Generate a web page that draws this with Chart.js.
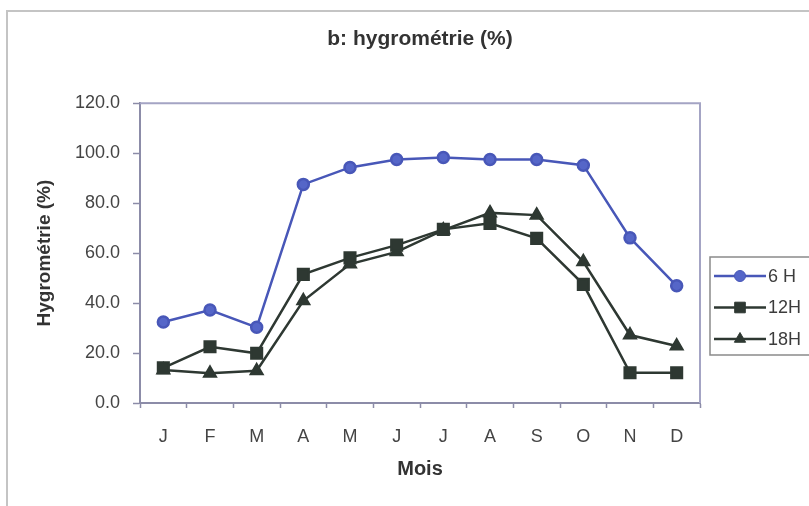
<!DOCTYPE html>
<html lang="fr">
<head>
<meta charset="utf-8">
<title>hygrométrie</title>
<script src="https://cdn.jsdelivr.net/npm/chart.js@4/dist/chart.umd.min.js"></script>
<style>
  html, body { margin: 0; padding: 0; background: #fff; }
  #wrap { width: 809px; height: 506px; }
</style>
</head>
<body>
<div id="wrap"><canvas id="hygro" width="809" height="506"></canvas></div>
<script>
const MOIS = ['J', 'F', 'M', 'A', 'M', 'J', 'J', 'A', 'S', 'O', 'N', 'D'];
const H6 = [32.4, 37.2, 30.3, 87.5, 94.3, 97.5, 98.3, 97.5, 97.5, 95.2, 66.1, 46.9];
const H12 = [14.1, 22.5, 19.9, 51.5, 58.1, 63.2, 69.5, 71.9, 65.9, 47.5, 12.1, 12.1];
const H18 = [13.2, 11.9, 12.9, 40.9, 55.6, 60.5, 69.2, 76.1, 75.2, 56.5, 27.2, 22.8];
const Y_TICKS = [0, 20, 40, 60, 80, 100, 120];

const FONT = '"Liberation Sans", Arial, sans-serif';
const BLEU = '#4857b8';
const SOMBRE = '#2e3832';
const AXE = '#8c8ca8';

// cadre gris du graphique + bordure haute/droite de la zone de tracé
const cadre = {
  id: 'cadre',
  beforeDraw(chart) {
    const ctx = chart.ctx;
    ctx.save();
    ctx.fillStyle = '#fff';
    ctx.fillRect(0, 0, chart.width, chart.height);
    ctx.strokeStyle = '#c4c4c4';
    ctx.lineWidth = 2;
    ctx.beginPath();
    ctx.moveTo(7, chart.height);
    ctx.lineTo(7, 11);
    ctx.lineTo(chart.width, 11);
    ctx.stroke();
    ctx.restore();
  },
  beforeDatasetsDraw(chart) {
    const { ctx, chartArea: a } = chart;
    ctx.save();
    ctx.strokeStyle = '#a4a4c4';
    ctx.lineWidth = 2;
    ctx.beginPath();
    ctx.moveTo(a.left, a.top);
    ctx.lineTo(a.right, a.top);
    ctx.lineTo(a.right, a.bottom);
    ctx.stroke();
    ctx.restore();
  }
};

// légende à droite : trait + marqueur, encadrée
const legende = {
  id: 'legende',
  afterDraw(chart) {
    const ctx = chart.ctx;
    ctx.save();
    ctx.strokeStyle = '#8a8a8a';
    ctx.lineWidth = 1.5;
    ctx.strokeRect(710, 257, 120, 98);
    ctx.font = '18px ' + FONT;
    ctx.textBaseline = 'middle';
    chart.data.datasets.forEach((ds, i) => {
      const y = 276 + i * 31.5;
      ctx.strokeStyle = ds.borderColor;
      ctx.lineWidth = ds.borderWidth;
      ctx.beginPath();
      ctx.moveTo(714, y);
      ctx.lineTo(766, y);
      ctx.stroke();
      ctx.fillStyle = ds.pointBackgroundColor;
      ctx.strokeStyle = ds.borderColor;
      ctx.lineWidth = 1;
      Chart.helpers.drawPoint(ctx, { pointStyle: ds.pointStyle, radius: ds.pointRadius, rotation: 0, borderWidth: 1 }, 740, y);
      ctx.fillStyle = '#3c3c3c';
      ctx.fillText(ds.label, 768, y + 1);
    });
    ctx.restore();
  }
};

new Chart(document.getElementById('hygro'), {
  type: 'line',
  data: {
    labels: MOIS,
    datasets: [
      { label: '6 H', data: H6, borderColor: BLEU, backgroundColor: BLEU, pointBackgroundColor: '#5566c8',
        pointBorderColor: BLEU, pointStyle: 'circle', pointRadius: 5.5, borderWidth: 2.5 },
      { label: '12H', data: H12, borderColor: SOMBRE, backgroundColor: SOMBRE, pointBackgroundColor: SOMBRE,
        pointBorderColor: SOMBRE, pointStyle: 'rect', pointRadius: 7.5, borderWidth: 2.5 },
      { label: '18H', data: H18, borderColor: SOMBRE, backgroundColor: SOMBRE, pointBackgroundColor: SOMBRE,
        pointBorderColor: SOMBRE, pointStyle: 'triangle', pointRadius: 6.5, borderWidth: 2.5 }
    ]
  },
  options: {
    responsive: false,
    animation: false,
    layout: { padding: { left: 0, right: 109, top: 0, bottom: 0 } },
    elements: { line: { tension: 0 } },
    plugins: {
      legend: { display: false },
      tooltip: { enabled: false },
      title: {
        display: true,
        text: 'b: hygrométrie (%)',
        fullSize: false,
        color: '#333',
        font: { family: FONT, size: 21, weight: 'bold' },
        padding: { top: 27, bottom: 51 }
      }
    },
    scales: {
      x: {
        offset: true,
        grid: { drawOnChartArea: false, offset: true, tickLength: 5, tickColor: AXE, tickWidth: 1.5 },
        border: { color: AXE, width: 2 },
        ticks: { color: '#444', padding: 18, maxRotation: 0, autoSkip: false, font: { family: FONT, size: 18 } },
        title: { display: true, text: 'Mois', color: '#333', padding: { top: 0, bottom: 25 },
          font: { family: FONT, size: 20, weight: 'bold' } },
        afterFit(scale) { scale.height = 103; }
      },
      y: {
        min: 0,
        max: 120,
        afterBuildTicks(scale) { scale.ticks = Y_TICKS.map(v => ({ value: v })); },
        grid: { drawOnChartArea: false, tickLength: 7, tickColor: AXE, tickWidth: 1.5 },
        border: { color: AXE, width: 2 },
        ticks: { color: '#444', padding: 13, font: { family: FONT, size: 18 },
          callback: v => Number(v).toFixed(1) },
        title: { display: true, text: 'Hygrométrie (%)', color: '#333', padding: { top: 33, bottom: 0 },
          font: { family: FONT, size: 19, weight: 'bold' } },
        afterFit(scale) { scale.width = 140; }
      }
    }
  },
  plugins: [cadre, legende]
});
</script>
</body>
</html>
